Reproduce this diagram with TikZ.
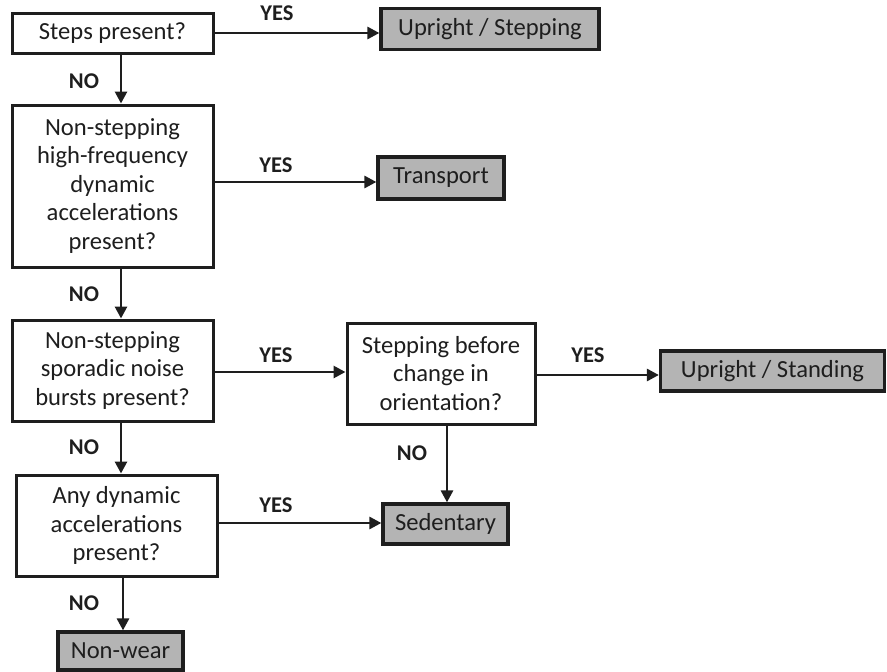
\documentclass[tikz,border=0pt]{standalone}
\usepackage{fontspec}
\setmainfont{Carlito}
\usetikzlibrary{arrows.meta}
\definecolor{boxgray}{HTML}{B4B4B4}
\definecolor{ink}{HTML}{1E1E1E}
\tikzset{
  qbox/.style={draw=ink, line width=3pt, fill=white, align=center, inner sep=0pt,
    font=\fontsize{24.6}{28.5}\selectfont, text=ink},
  rbox/.style={draw=ink, line width=3.2pt, fill=boxgray, align=center, inner sep=0pt,
    font=\fontsize{24.6}{28.5}\selectfont, text=ink},
  conn/.style={draw=ink, line width=2.8pt, -{Triangle[length=12pt,width=12pt]}},
  lbl/.style={font=\fontsize{22.5}{24}\selectfont\bfseries, text=ink, inner sep=0pt}
}
\begin{document}
\begin{tikzpicture}[x=1pt,y=-1pt]
\useasboundingbox (0,0) rectangle (887,672);
% decision boxes
\node[qbox, minimum width=201pt, minimum height=40pt] (b1) at (112.5,33) {Steps present?};
\node[qbox, minimum width=201pt, minimum height=162pt] (b2) at (112.5,186) {Non-stepping\\high-frequency\\dynamic\\accelerations\\present?};
\node[qbox, minimum width=201pt, minimum height=101pt] (b3) at (112.5,370.5) {Non-stepping\\sporadic noise\\bursts present?};
\node[qbox, minimum width=188pt, minimum height=101pt] (b5) at (441,373.5) {Stepping before\\change in\\orientation?};
\node[qbox, minimum width=201pt, minimum height=101pt] (b4) at (116.5,525.5) {Any dynamic\\accelerations\\present?};
% result boxes
\node[rbox, minimum width=218pt, minimum height=41pt] (us) at (490,29) {Upright / Stepping};
\node[rbox, minimum width=126pt, minimum height=42pt] (tr) at (441,178) {Transport};
\node[rbox, minimum width=224pt, minimum height=40pt] (st) at (772.5,371) {Upright / Standing};
\node[rbox, minimum width=125pt, minimum height=40pt] (se) at (445.5,524) {Sedentary};
\node[rbox, minimum width=125pt, minimum height=38pt] (nw) at (120.5,651) {Non-wear};
% connectors
\coordinate (a1) at (b1.east |- 0,33);
\draw[conn] (a1) -- (a1 -| us.west);
\coordinate (a2) at (b2.east |- 0,182);
\draw[conn] (a2) -- (a2 -| tr.west);
\coordinate (a3) at (b3.east |- 0,372);
\draw[conn] (a3) -- (a3 -| b5.west);
\coordinate (a4) at (b5.east |- 0,375);
\draw[conn] (a4) -- (a4 -| st.west);
\coordinate (a5) at (b4.east |- 0,523);
\draw[conn] (a5) -- (a5 -| se.west);
\coordinate (d1) at (121,0);
\draw[conn] (d1 |- b1.south) -- (d1 |- b2.north);
\draw[conn] (d1 |- b2.south) -- (d1 |- b3.north);
\draw[conn] (d1 |- b3.south) -- (d1 |- b4.north);
\coordinate (d2) at (123,0);
\draw[conn] (d2 |- b4.south) -- (d2 |- nw.north);
\coordinate (d3) at (447,0);
\draw[conn] (d3 |- b5.south) -- (d3 |- se.north);
% labels
\node[lbl] (y1) at (277,13) {YES};
\node[lbl] (n1) at (84,81) {NO};
\node[lbl] (y2) at (276,165) {YES};
\node[lbl] (n2) at (84,294) {NO};
\node[lbl] (y3) at (276,355) {YES};
\node[lbl] (y4) at (588,355) {YES};
\node[lbl] (n3) at (84,447) {NO};
\node[lbl] (n4) at (412,453) {NO};
\node[lbl] (y5) at (276,505) {YES};
\node[lbl] (n5) at (84,603) {NO};
\end{tikzpicture}
\end{document}
